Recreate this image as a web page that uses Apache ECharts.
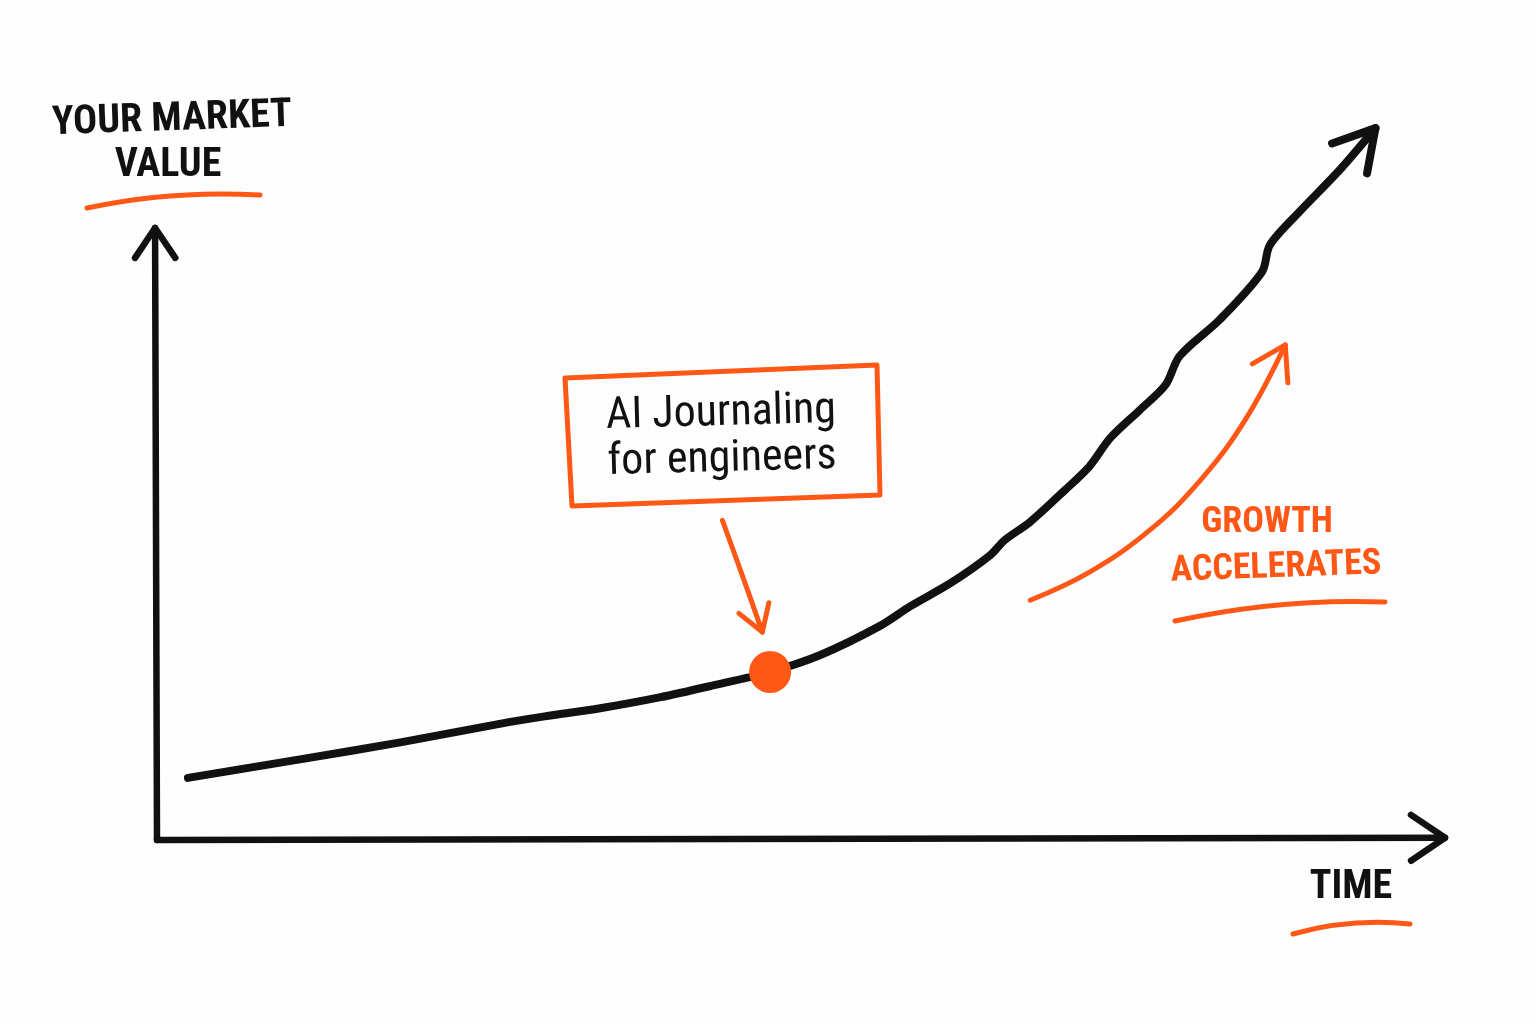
<!DOCTYPE html>
<html>
<head>
<meta charset="utf-8">
<title>Your market value</title>
<script src="https://cdn.jsdelivr.net/npm/echarts@6/dist/echarts.min.js"></script>
<style>
  html, body { margin: 0; padding: 0; background: #fefefe; }
  #main { width: 1536px; height: 1024px; }
</style>
</head>
<body>
<div id="main"></div>
<script>
// values (x = time 0..100, y = market value 0..100)
var growthCurve = [
  [2.4, 8.4], [11.1, 10.9], [18.9, 13.2], [26.6, 15.7], [30.1, 16.7],
  [34.4, 17.8], [39.1, 19.3], [43.7, 21.1], [47.6, 22.7], [51.5, 25.0],
  [56.1, 28.9], [58.5, 31.6], [61.6, 34.7], [64.7, 38.5], [65.8, 40.5],
  [67.8, 43.0], [70.5, 47.3], [72.4, 50.5], [74.0, 54.3], [76.3, 58.1],
  [78.3, 61.5], [79.4, 65.4], [82.5, 70.3], [85.8, 76.8], [86.4, 80.4],
  [88.7, 84.9], [91.8, 90.5], [94.6, 96.2]
];
var milestone = [[47.6, 22.7]];
var timeAxis = [[0, 0], [100, 0.3]];
var valueAxis = [[0, 0], [-0.15, 82.7]];
var accelArrow = [[67.8, 32.4], [72.4, 36.2], [77.1, 41.9], [81.0, 48.6], [84.5, 56.8], [87.6, 66.9]];
var calloutArrow = [[43.9, 43.2], [45.7, 34.5], [47.0, 28.1]];

var INK = '#111111';
var ORANGE = '#ff5816';
var HAND = "'Liberation Sans Narrow', 'Roboto Condensed', 'DejaVu Sans Condensed', Roboto, sans-serif";

var chart = echarts.init(document.getElementById('main'));

// path + open arrowhead, drawn once on the last point
function arrowSeries(points, color, width, headLen, spread, drawBody, smooth) {
  return {
    type: 'custom',
    coordinateSystem: 'cartesian2d',
    data: points,
    silent: true,
    z: 3,
    renderItem: function (params, api) {
      if (params.dataIndex !== points.length - 1) return null;
      var px = points.map(function (p) { return api.coord(p); });
      var tip = px[px.length - 1];
      var prev = px[px.length - 2];
      var ang = Math.atan2(prev[1] - tip[1], prev[0] - tip[0]);
      var a = spread * Math.PI / 180;
      var head = [
        [tip[0] + headLen * Math.cos(ang + a), tip[1] + headLen * Math.sin(ang + a)],
        tip,
        [tip[0] + headLen * Math.cos(ang - a), tip[1] + headLen * Math.sin(ang - a)]
      ];
      var style = { stroke: color, lineWidth: width, fill: null, lineCap: 'round', lineJoin: 'round' };
      var kids = [{ type: 'polyline', shape: { points: head }, style: style }];
      if (drawBody) {
        kids.unshift({ type: 'polyline', shape: { points: px, smooth: smooth || 0 }, style: style });
      }
      return { type: 'group', children: kids };
    }
  };
}

function underline(x1, y1, cx, cy, x2, y2) {
  return {
    type: 'bezierCurve',
    shape: { x1: x1, y1: y1, cpx1: cx, cpy1: cy, x2: x2, y2: y2 },
    style: { stroke: ORANGE, lineWidth: 5, fill: null, lineCap: 'round' },
    silent: true
  };
}

function label(text, x, y, size, color, rot, weight) {
  return {
    type: 'text',
    x: x, y: y,
    rotation: (rot || 0) * Math.PI / 180,
    style: {
      text: text,
      fill: color,
      fontSize: size,
      fontFamily: HAND,
      fontWeight: weight || 'bold',
      textAlign: 'center',
      textVerticalAlign: 'middle'
    },
    silent: true
  };
}

var option = {
  backgroundColor: '#fefefe',
  animation: false,
  grid: { left: 157, right: 91, top: 100, bottom: 184 },
  xAxis: { type: 'value', min: 0, max: 100, show: false },
  yAxis: { type: 'value', min: 0, max: 100, show: false },
  series: [
    arrowSeries(valueAxis, INK, 6.5, 36, 34, true, 0),
    arrowSeries(timeAxis, INK, 6.5, 41, 34, true, 0),
    {
      name: 'Market value',
      type: 'line',
      data: growthCurve,
      smooth: 0.3,
      symbol: 'none',
      lineStyle: { color: INK, width: 8, cap: 'round', join: 'round' },
      z: 3
    },
    arrowSeries(growthCurve, INK, 8, 46, 30, false, 0),
    arrowSeries(accelArrow, ORANGE, 5, 38, 32, true, 0.4),
    arrowSeries(calloutArrow, ORANGE, 5, 30, 32, true, 0.4),
    {
      name: 'AI Journaling',
      type: 'scatter',
      data: milestone,
      symbolSize: 42,
      itemStyle: { color: ORANGE, opacity: 1 },
      z: 6
    }
  ],
  graphic: [
    label('YOUR MARKET', 172, 120, 40, INK, 2),
    label('VALUE', 168, 166, 40, INK, 0),
    underline(87, 208, 170, 190, 260, 195),
    label('TIME', 1351, 888, 40, INK, 0),
    underline(1293, 934, 1350, 918, 1410, 924),
    label('GROWTH', 1267, 523, 36, ORANGE, 0),
    label('ACCELERATES', 1276, 568, 36, ORANGE, 2),
    underline(1175, 621, 1280, 598, 1385, 602),
    {
      type: 'polygon',
      shape: { points: [[565, 378], [877, 365], [880, 495], [572, 506]] },
      style: { stroke: ORANGE, lineWidth: 5, fill: null, lineJoin: 'round' },
      silent: true
    },
    label('AI Journaling', 721, 414, 44, INK, 1.5, 'normal'),
    label('for engineers', 722, 460, 44, INK, 1.5, 'normal')
  ]
};

chart.setOption(option);
</script>
</body>
</html>
